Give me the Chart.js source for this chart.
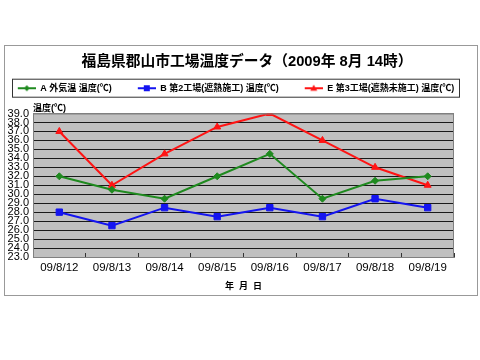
<!DOCTYPE html>
<html>
<head>
<meta charset="utf-8">
<script src="https://cdn.jsdelivr.net/npm/chart.js@4/dist/chart.umd.min.js"></script>
<style>
  html, body { margin: 0; background: #fff; }
  #frame { position: absolute; left: 4px; top: 45px; width: 472px; height: 249px; border: 1px solid #999; }
  canvas { display: block; }
</style>
</head>
<body>
<div id="frame"><canvas id="chart" width="472" height="249"></canvas></div>
<script>
const dates = ['09/8/12', '09/8/13', '09/8/14', '09/8/15', '09/8/16', '09/8/17', '09/8/18', '09/8/19']
const outsideTemp = [32, 30.5, 29.5, 32, 34.5, 29.5, 31.5, 32]
const plant2Temp = [28, 26.5, 28.5, 27.5, 28.5, 27.5, 29.5, 28.5]
const plant3Temp = [37, 31, 34.5, 37.5, 39, 36, 33, 31]
const seriesNames = ['A 外気温 温度(℃)', 'B 第2工場(遮熱施工) 温度(℃)', 'E 第3工場(遮熱未施工) 温度(℃)']
const yMin = 23, yMax = 39, yStep = 1

const GREEN = '#1F8A1F', BLUE = '#1414F0', RED = '#FF1414'
const FONT = "'Liberation Sans', 'Noto Sans CJK JP', sans-serif"
Chart.defaults.font.family = FONT
Chart.defaults.color = '#000'

// legend icon: short line with the marker, left part left blank as spacing
function legendIcon(color, shape) {
  const cv = document.createElement('canvas')
  cv.width = 40; cv.height = 10
  const g = cv.getContext('2d')
  g.strokeStyle = color; g.fillStyle = color; g.lineWidth = 2
  g.beginPath(); g.moveTo(22, 5); g.lineTo(40, 5); g.stroke()
  g.beginPath()
  if (shape === 'diamond') { g.moveTo(31, 2); g.lineTo(34, 5); g.lineTo(31, 8); g.lineTo(28, 5) }
  else if (shape === 'square') { g.rect(28, 2, 6, 6) }
  else { g.moveTo(31, 1.5); g.lineTo(34.5, 7.5); g.lineTo(27.5, 7.5) }
  g.closePath(); g.fill()
  return cv
}
const icons = [legendIcon(GREEN, 'diamond'), legendIcon(BLUE, 'square'), legendIcon(RED, 'triangle')]

const plotFrame = {
  id: 'plotFrame',
  afterLayout(chart) {
    // nudge title right and legend row left, as in the original sheet
    chart.titleBlock.left += 6; chart.titleBlock.right += 6
    chart.legend.left -= 16; chart.legend.right -= 16
  },
  beforeDraw(chart) {
    const { ctx, chartArea: a } = chart
    ctx.save()
    ctx.fillStyle = '#C0C0C0'
    ctx.fillRect(a.left, a.top, a.width, a.height)
    ctx.restore()
  },
  afterDatasetsDraw(chart) {
    const { ctx, chartArea: a } = chart
    ctx.save()
    ctx.strokeStyle = '#808080'
    ctx.lineWidth = 1
    ctx.beginPath()
    ctx.moveTo(a.left + 0.5, a.top + 0.5); ctx.lineTo(a.right - 0.5, a.top + 0.5); ctx.lineTo(a.right - 0.5, a.bottom)
    ctx.stroke()
    ctx.restore()
  },
  afterDraw(chart) {
    const { ctx } = chart
    const lg = chart.legend
    ctx.save()
    ctx.strokeStyle = '#333'
    ctx.lineWidth = 1
    ctx.strokeRect(lg.left + 16 + 7.5, lg.top - 0.5, lg.width - 25, 18)
    ctx.restore()
  }
}

new Chart(document.getElementById('chart'), {
  type: 'line',
  data: {
    labels: dates,
    datasets: [
      { label: seriesNames[0], data: outsideTemp, borderColor: GREEN, backgroundColor: GREEN, borderWidth: 2,
        pointStyle: 'rectRot', pointRadius: 3.5, pointBorderWidth: 1 },
      { label: seriesNames[1], data: plant2Temp, borderColor: BLUE, backgroundColor: BLUE, borderWidth: 2,
        pointStyle: 'rect', pointRadius: 4.5, pointBorderWidth: 1 },
      { label: seriesNames[2], data: plant3Temp, borderColor: RED, backgroundColor: RED, borderWidth: 2,
        pointStyle: 'triangle', pointRadius: 4, pointBorderWidth: 1 }
    ]
  },
  options: {
    responsive: false,
    animation: false,
    layout: { padding: 0 },
    plugins: {
      title: { display: true, text: '福島県郡山市工場温度データ（2009年 8月 14時）', color: '#000',
        font: { size: 14.75, weight: 'bold' }, padding: { top: 7, bottom: 9 } },
      legend: {
        labels: {
          usePointStyle: true, pointStyleWidth: 40, padding: 4, color: '#000',
          font: { size: 9, weight: 'bold' },
          generateLabels: chart => Chart.defaults.plugins.legend.labels.generateLabels(chart)
            .map((item, i) => ({ ...item, pointStyle: icons[i] }))
        }
      },
      subtitle: { display: true, text: '温度(℃)', align: 'start', fullSize: false, weight: 500, color: '#000',
        font: { size: 9, weight: 'bold' }, padding: { top: 0, bottom: 0 } },
      tooltip: { enabled: false }
    },
    scales: {
      x: {
        offset: true,
        grid: { offset: true, drawOnChartArea: false, drawTicks: true, tickLength: -4, color: '#333' },
        border: { color: '#808080' },
        ticks: { font: { size: 11.5 }, padding: 8, maxRotation: 0 },
        title: { display: true, text: '年  月  日', font: { size: 9, weight: 'bold' }, padding: { top: 0, bottom: 3 } },
        afterFit: s => { s.height = 38 }
      },
      y: {
        min: yMin, max: yMax,
        grid: { drawTicks: false,
          color: c => (c.tick && (c.tick.value === yMin || c.tick.value === yMax)) ? '#808080' : '#1a1a1a' },
        border: { color: '#808080' },
        ticks: { stepSize: yStep, autoSkip: false, padding: 4, font: { size: 11 },
          callback: v => Number(v).toFixed(1) },
        afterFit: s => { s.width = 28 }
      },
      yRight: {
        position: 'right', min: yMin, max: yMax,
        grid: { display: false }, border: { display: false }, ticks: { display: false },
        afterFit: s => { s.width = 23 }
      }
    }
  },
  plugins: [plotFrame]
})
</script>
</body>
</html>
